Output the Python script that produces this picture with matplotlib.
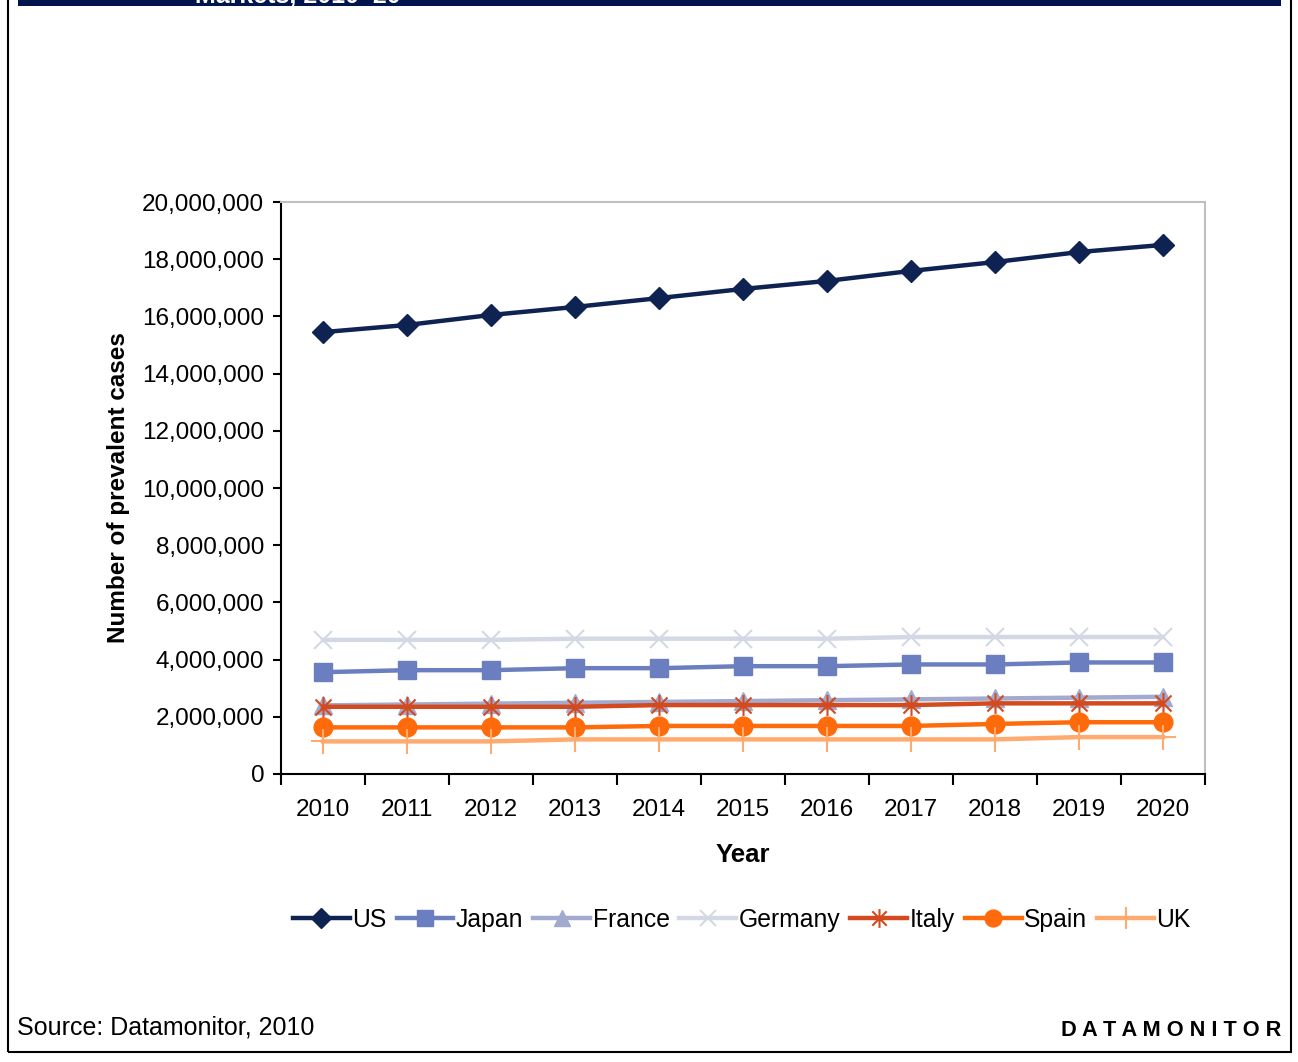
import numpy as np
import matplotlib.pyplot as plt
from matplotlib.path import Path
from matplotlib.ticker import FuncFormatter
from matplotlib.patches import Rectangle

plt.rcParams['font.family'] = ['Liberation Sans', 'DejaVu Sans']

years = [2010, 2011, 2012, 2013, 2014, 2015, 2016, 2017, 2018, 2019, 2020]
us = [15.45, 15.70, 16.05, 16.33, 16.64, 16.96, 17.24, 17.59, 17.90, 18.25, 18.50]
japan = [3.56, 3.63, 3.63, 3.70, 3.70, 3.77, 3.77, 3.83, 3.83, 3.90, 3.90]
france = [2.40, 2.43, 2.46, 2.49, 2.52, 2.55, 2.58, 2.61, 2.64, 2.67, 2.70]
germany = [4.69, 4.69, 4.69, 4.73, 4.73, 4.73, 4.73, 4.79, 4.79, 4.79, 4.79]
italy = [2.35, 2.35, 2.35, 2.35, 2.41, 2.41, 2.41, 2.41, 2.47, 2.47, 2.47]
spain = [1.63, 1.63, 1.63, 1.63, 1.68, 1.68, 1.68, 1.68, 1.75, 1.81, 1.81]
uk = [1.14, 1.14, 1.14, 1.21, 1.21, 1.21, 1.21, 1.21, 1.21, 1.29, 1.29]

# excel style asterisk: x with a vertical bar
star = Path([(-1, -1), (1, 1), (-1, 1), (1, -1), (0, -1.3), (0, 1.3)],
            [Path.MOVETO, Path.LINETO, Path.MOVETO, Path.LINETO, Path.MOVETO, Path.LINETO])

series = [
    ("US", us, "#0f2352", "D", 11.5, 3.2),
    ("Japan", japan, "#6a7ec0", "s", 13, 3.2),
    ("France", france, "#a2aacf", "^", 13, 3.2),
    ("Germany", germany, "#d4d8e4", "x", 13, 3.2),
    ("Italy", italy, "#d34a1f", star, 15, 3.2),
    ("Spain", spain, "#ff6a0a", "o", 13.5, 3.2),
    ("UK", uk, "#ffab70", "+", 18, 3.2),
]

fig = plt.figure(figsize=(12.98, 10.62), dpi=100)
ax = fig.add_axes([281 / 1298, 1 - 774 / 1062, 924 / 1298, 572 / 1062])

x = np.arange(len(years))
for name, vals, col, mk, ms, lw in series:
    v = np.array(vals) * 1e6
    if mk in ("x", "+") or mk is star:
        ax.plot(x, v, color=col, lw=lw, marker=mk, ms=ms, mew=1.5,
                mfc="none", mec=col, label=name)
    else:
        ax.plot(x, v, color=col, lw=lw, marker=mk, ms=ms, mec=col, mfc=col, label=name)

ax.set_xlim(-0.5, 10.5)
ax.set_ylim(0, 20e6)
ax.set_yticks(np.arange(0, 20e6 + 1, 2e6))
ax.yaxis.set_major_formatter(FuncFormatter(lambda v, p: f"{int(v):,}"))
ax.set_xticks(np.arange(-0.5, 11, 1))
ax.set_xticklabels([])
ax.set_xticks(x, minor=True)
ax.set_xticklabels([str(y) for y in years], minor=True)
ax.tick_params(axis="x", which="major", length=8, width=1.5, direction="out")
ax.tick_params(axis="x", which="minor", length=0, labelsize=17.5, pad=18)
ax.tick_params(axis="y", length=6, width=1.5, labelsize=17.5, pad=6)
for s in ("left", "bottom"):
    ax.spines[s].set_linewidth(1.5)
for s in ("top", "right"):
    ax.spines[s].set_color("#c0c0c0")
    ax.spines[s].set_linewidth(1.5)

ax.set_xlabel("Year", fontsize=18.5, fontweight="bold", labelpad=16)
ax.set_ylabel("Number of prevalent cases", fontsize=17.5, fontweight="bold", labelpad=9)

fig.legend(loc="center", bbox_to_anchor=(742 / 1298, 1 - 920 / 1062), ncol=7,
           frameon=False, fontsize=17.8, handlelength=2.3, handletextpad=0.1,
           columnspacing=0.4, markerscale=0.9)

# page frame and cut-off title bar
fig.patches.append(Rectangle((8 / 1298, 1 - 1052 / 1062), 1283 / 1298, 1052 / 1062 + 0.01,
                             transform=fig.transFigure, fill=False, ec="black", lw=1.5))
fig.patches.append(Rectangle((18 / 1298, 1 - 6 / 1062), 1263 / 1298, 6 / 1062 + 0.01,
                             transform=fig.transFigure, fc="#00154d", ec="none"))
fig.text(195 / 1298, 1 - 3 / 1062, "Markets, 2010\u201320", color="white",
         fontsize=18, fontweight="bold", va="baseline", ha="left")

fig.text(17 / 1298, 1 - 1028 / 1062, "Source: Datamonitor, 2010", fontsize=18,
         va="center", ha="left")
fig.text(1281 / 1298, 1 - 1030 / 1062, "D A T A M O N I T O R", fontsize=15.7,
         fontweight="bold", va="center", ha="right")

fig.savefig("out.png", dpi=100)
